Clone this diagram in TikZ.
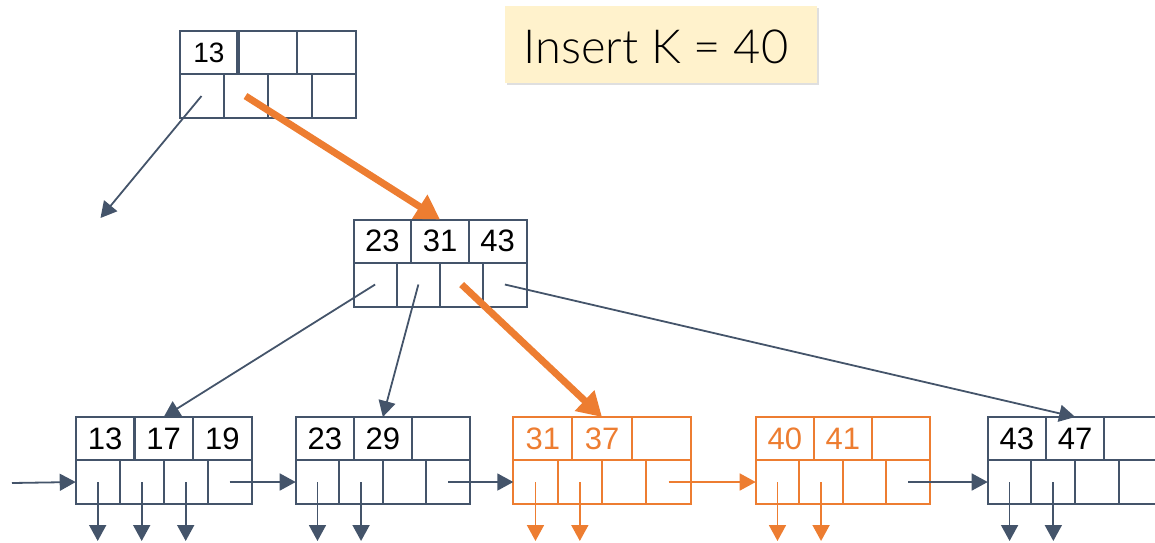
\documentclass[tikz,border=0pt]{standalone}
\usepackage{fontspec}
\setmainfont{Liberation Sans}
\newfontfamily\lightfont[UprightFont=* Light]{Lato}
\usetikzlibrary{arrows.meta,shadows,calc}

\definecolor{slatec}{HTML}{44546A}
\definecolor{orangec}{HTML}{ED7D31}
\definecolor{notefill}{HTML}{FFF2CC}

% One B+ tree node: three key cells over four pointer cells.
% #1 name, #2 left x, #3 top y, #4 width, #5 styles, #6-#8 keys
\newcommand\bpnode[8]{%
  \foreach \i/\k in {1/#6,2/#7,3/#8}{%
    \node[cellbox,#5,minimum width={#4/3*1pt},minimum height=43pt]
      (#1-k\i) at ({#2+(\i-1)*#4/3},#3) {\k};}
  \foreach \i in {1,...,4}{%
    \node[cellbox,#5,minimum width={#4/4*1pt},minimum height=44pt]
      (#1-p\i) at ({#2+(\i-1)*#4/4},{#3+43}) {};}
}

\begin{document}
\begin{tikzpicture}[x=1pt,y=-1pt,
  cellbox/.style={rectangle,draw,line width=2pt,inner sep=0pt,outer sep=0pt,
    anchor=north west},
  slate/.style={draw=slatec,text=black},
  hot/.style={draw=orangec,text=orangec},
  keyfont/.style={font=\fontsize{31}{31}\selectfont},
  rootfont/.style={font=\fontsize{28}{28}\selectfont},
  heavyrule/.style={draw=slatec,line width=3.5pt},
  link/.style={draw=slatec,line width=1.8pt,-{Triangle[length=16pt,width=17pt]}},
  hotlink/.style={link,draw=orangec},
  route/.style={draw=orangec,line width=7pt,-{Triangle[length=24pt,width=27pt]}},
  note/.style={rectangle,fill=notefill,inner sep=0pt,minimum width=312pt,
    minimum height=77pt,
    drop shadow={opacity=0.25,shadow xshift=2pt,shadow yshift=-2pt},
    font=\lightfont\fontsize{47}{47}\selectfont},
]
\useasboundingbox (0,0) rectangle (1155,542);

% caption
\node[note,anchor=north west] (insert) at (505,6) {};
\node[font=\lightfont\fontsize{47}{47}\selectfont,anchor=base] (inserttext)
  at (656,63) {Insert K = 40};

% tree nodes
\bpnode{root}{179.5}{31}{176}{slate,rootfont}{13}{}{}
\bpnode{mid}{353.5}{219.5}{173}{slate,keyfont}{23}{31}{43}
\bpnode{la}{75.7}{417}{176}{slate,keyfont}{13}{17}{19}
\bpnode{lb}{295.7}{417}{174.3}{slate,keyfont}{23}{29}{}
\bpnode{lc}{513.3}{417}{177.4}{hot,keyfont}{31}{37}{}
\bpnode{ld}{755.7}{417}{174.3}{hot,keyfont}{40}{41}{}
\bpnode{le}{987.7}{417}{175}{slate,keyfont}{43}{47}{}

% heavier dividers after the first key
\draw[heavyrule] (root-k1.north east) -- (root-k1.south east);
\draw[heavyrule] (la-k1.north east) -- (la-k1.south east);

% free ends
\coordinate (leftsub) at (100.5,218);
\coordinate (entry) at (12,483);
\coordinate (floor) at (0,541);

% inner pointers
\draw[link] (root-p1.center) -- (leftsub);
\draw[link] (mid-p1.center) -- (la-k2.north);
\draw[link] (mid-p2.center) -- (lb-k2.north);
\draw[link] (mid-p4.center) -- (le-k2.north);

% search path
\draw[route] (root-p2.center) -- (mid-k2.north);
\draw[route] (mid-p3.center) -- (lc-k2.north);

% leaf chain
\draw[link] (entry) -- (la-p1.west);
\draw[link] (la-p4.center) -- (lb-p1.west);
\draw[link] (lb-p4.center) -- (lc-p1.west);
\draw[hotlink] (lc-p4.center) -- (ld-p1.west);
\draw[link] (ld-p4.center) -- (le-p1.west);

% record pointers
\foreach \n in {la-p1,la-p2,la-p3,lb-p1,lb-p2,le-p1,le-p2}
  \draw[link] (\n.center) -- (\n.center |- floor);
\foreach \n in {lc-p1,lc-p2,ld-p1,ld-p2}
  \draw[hotlink] (\n.center) -- (\n.center |- floor);
\end{tikzpicture}
\end{document}
